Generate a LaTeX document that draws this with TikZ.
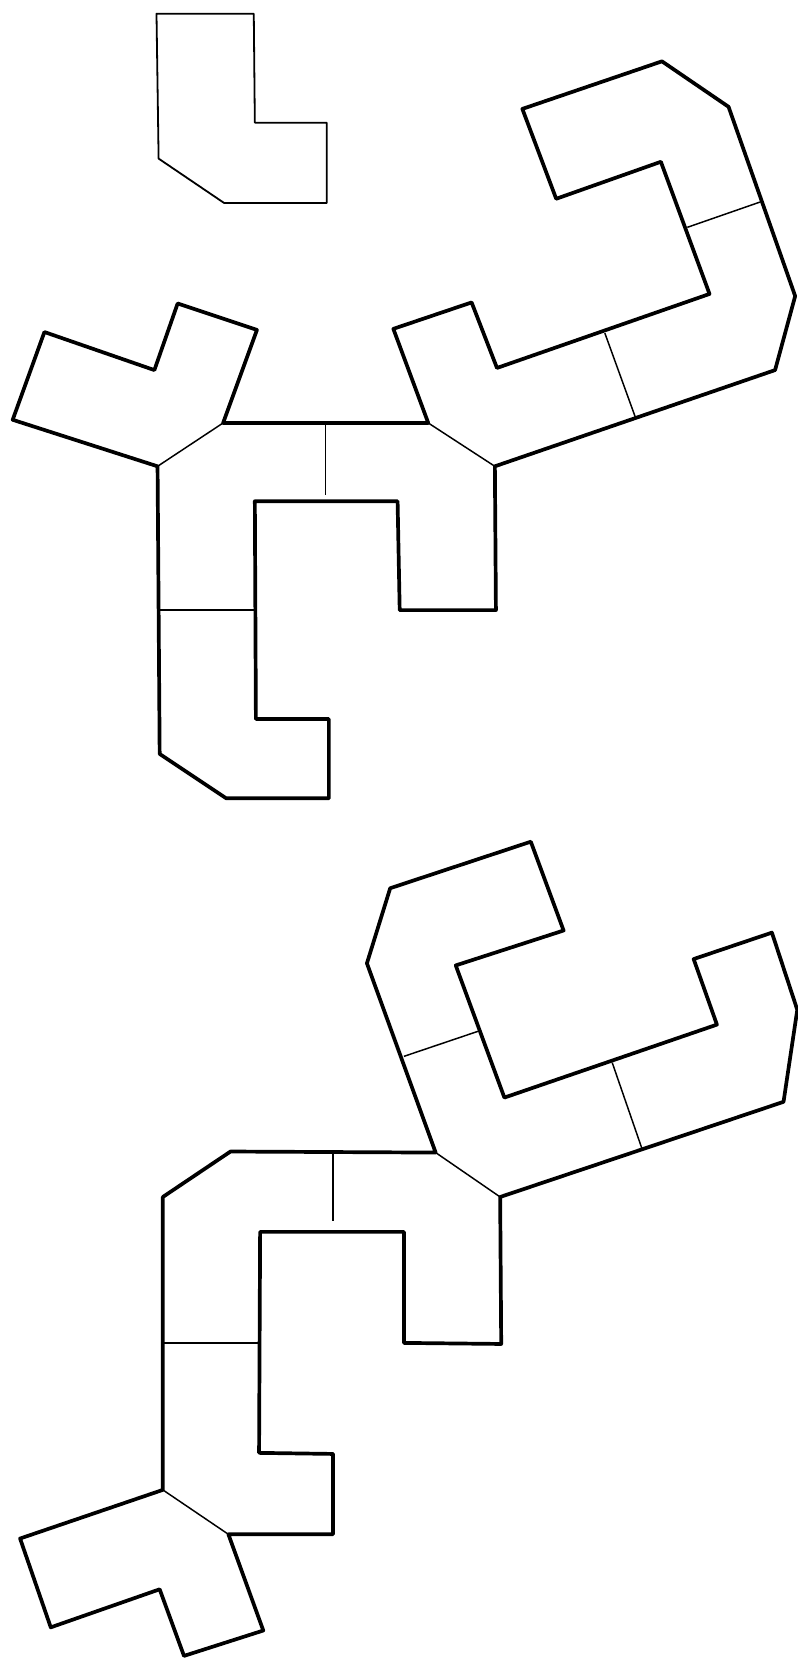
\documentclass[tikz,border=0pt]{standalone}
\tikzset{thick line/.style={line width=3.5pt,line join=round,line cap=round,black},thin line/.style={line width=1.4pt,line join=round,black},lone line/.style={line width=1.7pt,line join=round,black}}
\begin{document}
\begin{tikzpicture}[x=1pt,y=-1pt]
\useasboundingbox (0,0) rectangle (754,1568);
\fill[white] (0,0) rectangle (754,1568);
% lone piece
\draw[lone line] (148,13)--(240,13)--(241,116)--(309,116)--(309,192)--(212,192)--(150,150)--cycle;
% upper assembly
\draw[thick line] (149,441)--(12,397)--(42,314)--(146,350)--(168,287)--(243,312)--(211,400)--(405,400)--(372,311)--(446,286)--(470,348)--(671,278)--(625,153)--(526,188)--(494,103)--(626,58)--(689,101)--(752,280)--(733,350)--(468,441)--(469,577)--(378,577)--(376,474)--(241,474)--(242,680)--(311,680)--(311,755)--(214,755)--(151,713)--cycle;
\draw[thin line] (211,400)--(149,441);
\draw[thin line] (405,400)--(468,441);
\draw[thin line] (308,400)--(308,468);
\draw[thin line] (149,577)--(241,577);
\draw[thin line] (572,315)--(601,395);
\draw[thin line] (650,215)--(719,191);
% lower assembly
\draw[thick line] (412,1090)--(347,911)--(369,840)--(502,796)--(533,880)--(431,913)--(477,1038)--(678,969)--(656,907)--(730,882)--(754,955)--(741,1042)--(473,1132)--(474,1271)--(382,1270)--(382,1165)--(246,1165)--(245,1374)--(315,1375)--(315,1451)--(216,1451)--(249,1542)--(174,1566)--(151,1503)--(48,1539)--(19,1455)--(154,1409)--(154,1132)--(218,1089)--cycle;
\draw[thin line] (216,1451)--(154,1409);
\draw[thin line] (412,1090)--(473,1132);
\draw[thin line] (315,1090)--(315,1155);
\draw[thin line] (155,1270)--(245,1270);
\draw[thin line] (579,1005)--(607,1086);
\draw[thin line] (382,999)--(453,975);
\end{tikzpicture}
\end{document}
